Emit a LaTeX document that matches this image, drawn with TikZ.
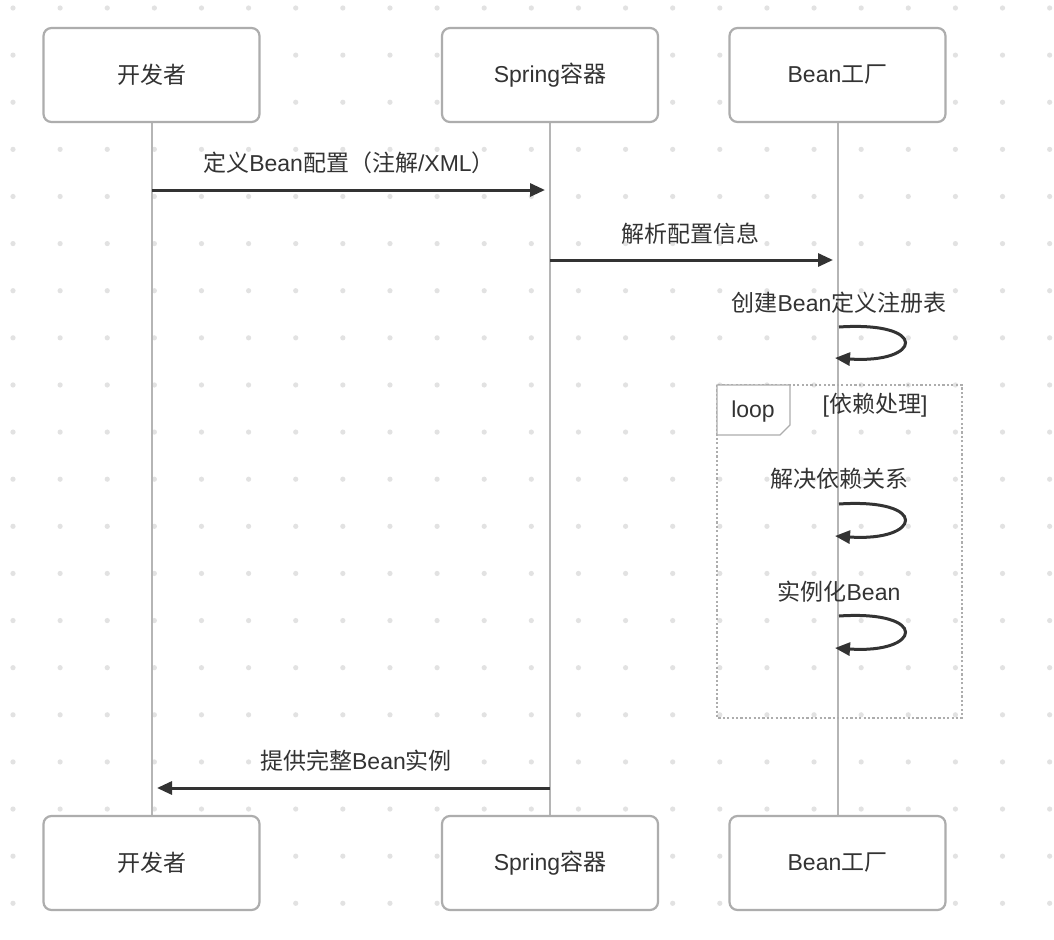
\documentclass[tikz,border=0pt]{standalone}
\usepackage{fontspec}
\setmainfont{Liberation Sans}
\newfontfamily\cjk{Noto Sans CJK SC}
\usetikzlibrary{arrows.meta}
\begin{document}
\begin{tikzpicture}[x=1pt,y=-1pt,
  actor/.style={draw=boxgray,line width=2.2pt,rounded corners=8pt,fill=white,minimum width=216pt,minimum height=94pt,text=txt,font=\fontsize{23}{26}\selectfont},
  lifeline/.style={draw=lifegray,line width=2.8pt},
  msg/.style={draw=txt,line width=3pt,-{Triangle[length=15pt,width=13pt]}},
  lbl/.style={text=txt,font=\fontsize{23}{26}\selectfont,inner sep=0pt}]
\definecolor{boxgray}{HTML}{ADADAD}
\definecolor{lifegray}{HTML}{B5B5B5}
\definecolor{txt}{HTML}{333333}
\definecolor{dotgray}{HTML}{E2E2E2}
\useasboundingbox (0,0) rectangle (1054,939);
\fill[white] (0,0) rectangle (1054,939);
% dot grid
\foreach \i in {0,...,22}{
  \foreach \j in {0,...,19}{
    \fill[dotgray] (13+47.12*\i, 8+47.12*\j) circle (2.6pt);
  }
}
% lifelines
\coordinate (l1t) at (152,122); \coordinate (l1b) at (152,816);
\coordinate (l2t) at (550,122); \coordinate (l2b) at (550,816);
\coordinate (l3t) at (838,122); \coordinate (l3b) at (838,816);
\draw[lifeline] (l1t) -- (l1b);
\draw[lifeline] (l2t) -- (l2b);
\draw[lifeline] (l3t) -- (l3b);
% actors
\node[actor] (a1) at (151.5,75) {\cjk 开发者};
\node[actor] (a2) at (550,75) {Spring{\cjk 容器}};
\node[actor] (a3) at (837.5,75) {Bean{\cjk 工厂}};
\node[actor] (b1) at (151.5,863) {\cjk 开发者};
\node[actor] (b2) at (550,863) {Spring{\cjk 容器}};
\node[actor] (b3) at (837.5,863) {Bean{\cjk 工厂}};
% loop frame
\draw[boxgray,line width=2.2pt,dash pattern=on 2.2pt off 2.2pt] (717,385) rectangle (962,718);
\draw[boxgray,line width=1.1pt,fill=white] (717,385) -- (790,385) -- (790,425) -- (780,435) -- (717,435) -- cycle;
\node[lbl] (looplbl) at (753,412) {loop};
\node[lbl] (cond) at (875,405) {[{\cjk 依赖处理}]};
% message 1
\coordinate (m1s) at (152,190); \coordinate (m1e) at (545,190);
\draw[msg] (m1s) -- (m1e);
\node[lbl] (t1) at (349,163) {{\cjk 定义}Bean{\cjk 配置（注解}/XML{\cjk ）}};
% message 2
\coordinate (m2s) at (550,260); \coordinate (m2e) at (833,260);
\draw[msg] (m2s) -- (m2e);
\node[lbl] (t2) at (690,234) {\cjk 解析配置信息};
% self 1
\coordinate (s1a) at (839,327); \coordinate (s1b) at (835,358);
\draw[msg] (s1a) .. controls (930,321) and (922,364) .. (s1b);
\node[lbl] (t3) at (839,303) {{\cjk 创建}Bean{\cjk 定义注册表}};
% self 2
\coordinate (s2a) at (839,504); \coordinate (s2b) at (835,536);
\draw[msg] (s2a) .. controls (930,498) and (922,542) .. (s2b);
\node[lbl] (t4) at (839,479) {\cjk 解决依赖关系};
% self 3
\coordinate (s3a) at (839,616); \coordinate (s3b) at (835,648);
\draw[msg] (s3a) .. controls (930,610) and (922,654) .. (s3b);
\node[lbl] (t5) at (839,592) {{\cjk 实例化}Bean};
% return
\coordinate (rs) at (550,788); \coordinate (re) at (157,788);
\draw[msg] (rs) -- (re);
\node[lbl] (t6) at (356,761) {{\cjk 提供完整}Bean{\cjk 实例}};
\end{tikzpicture}
\end{document}
